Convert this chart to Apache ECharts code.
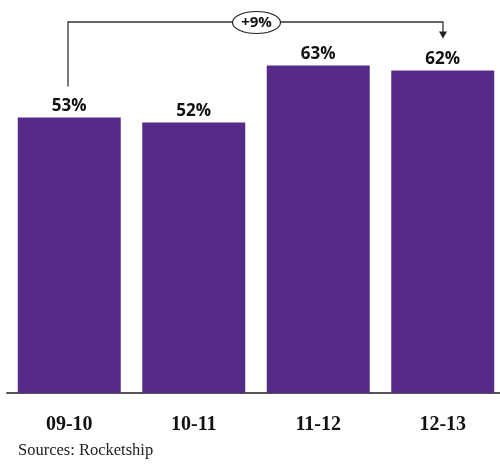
<!DOCTYPE html>
<html>
<head>
<meta charset="utf-8">
<script src="https://cdn.jsdelivr.net/npm/echarts@6/dist/echarts.min.js"></script>
<style>
  html, body { margin: 0; padding: 0; background: #fff; overflow: hidden; }
  #chart { width: 510px; height: 464px; }
</style>
</head>
<body>
<div id="chart"></div>
<script>
// School years and share of students (percent)
var years = ['09-10', '10-11', '11-12', '12-13'];
var shares = [53, 52, 63, 62];
var changeLabel = '+9%';
var sourceNote = 'Sources: Rocketship';

var chart = echarts.init(document.getElementById('chart'), null, { renderer: 'canvas' });

var sourceText = {
  type: 'text',
  left: 18,
  top: 442,
  style: {
    text: sourceNote,
    font: '16.5px "Liberation Serif", "Times New Roman", serif',
    fill: '#222'
  }
};

var option = {
  animation: false,
  grid: { left: 7, width: 498, top: 29, bottom: 71, containLabel: false },
  xAxis: {
    type: 'category',
    data: years,
    axisLine: { show: true, lineStyle: { color: '#555', width: 2 } },
    axisTick: { show: false },
    axisLabel: {
      margin: 22,
      fontFamily: '"Liberation Serif", "Times New Roman", serif',
      fontWeight: 'bold',
      fontSize: 20,
      color: '#111'
    }
  },
  yAxis: {
    type: 'value',
    min: 0,
    max: 70,
    show: false,
    splitLine: { show: false }
  },
  series: [{
    type: 'bar',
    data: shares,
    barWidth: 103,
    itemStyle: { color: '#552A88' },
    label: {
      show: true,
      position: 'top',
      distance: 3,
      formatter: '{c}%',
      fontFamily: '"Open Sans", "Noto Sans", sans-serif',
      fontWeight: 'bold',
      fontSize: 17,
      color: '#111'
    }
  }],
  graphic: [sourceText]
};
chart.setOption(option);

// Bracket connecting the first and last year, with the change in an oval
function drawBracket() {
  var first = chart.convertToPixel({ seriesIndex: 0 }, [0, shares[0]]);
  var last = chart.convertToPixel({ seriesIndex: 0 }, [years.length - 1, shares[shares.length - 1]]);
  var x1 = Math.round(first[0]) - 1;
  var x2 = Math.round(last[0]);
  var yTop = 22;
  var yStart = first[1] - 31;
  var yEnd = last[1] - 32;
  var midX = (x1 + x2) / 2 + 1;
  var lineStyle = { stroke: '#333', lineWidth: 1.3 };
  chart.setOption({
    graphic: [
      sourceText,
      {
        type: 'polyline',
        shape: { points: [[x1, yStart], [x1, yTop], [x2, yTop], [x2, yEnd - 6]] },
        style: Object.assign({ fill: null }, lineStyle)
      },
      {
        type: 'polygon',
        shape: { points: [[x2 - 4, yEnd - 7], [x2 + 4, yEnd - 7], [x2, yEnd]] },
        style: { fill: '#222' }
      },
      {
        type: 'ellipse',
        shape: { cx: midX, cy: yTop + 0.5, rx: 24, ry: 11 },
        style: { fill: '#fff', stroke: '#222', lineWidth: 1.2 }
      },
      {
        type: 'text',
        x: midX,
        y: yTop + 0.5,
        style: {
          text: changeLabel,
          font: 'bold 15px "Open Sans", "Noto Sans", sans-serif',
          fill: '#111',
          align: 'center',
          verticalAlign: 'middle'
        }
      }
    ]
  }, { replaceMerge: ['graphic'] });
}
drawBracket();
</script>
</body>
</html>
